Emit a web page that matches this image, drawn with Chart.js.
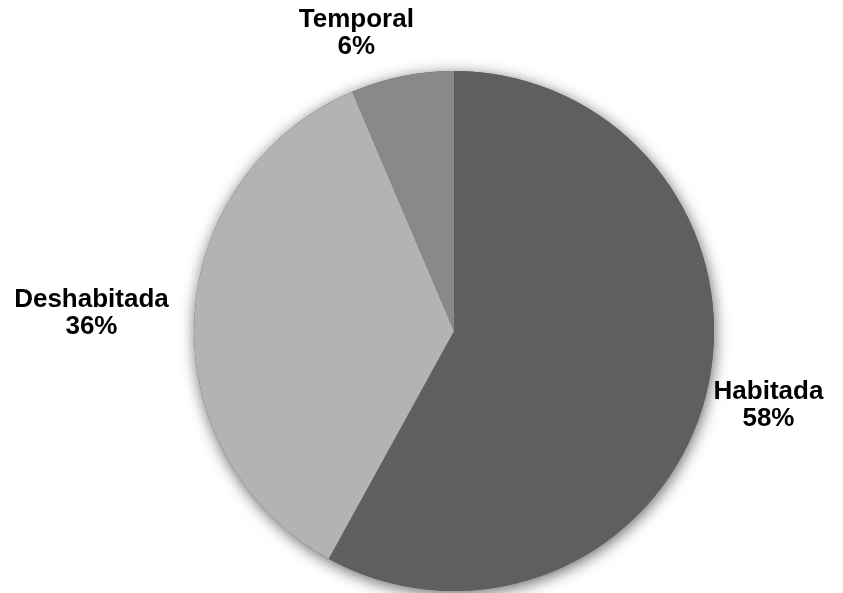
<!DOCTYPE html>
<html>
<head>
<meta charset="utf-8">
<script src="https://cdn.jsdelivr.net/npm/chart.js@4/dist/chart.umd.min.js"></script>
<style>
  html, body { margin: 0; padding: 0; background: #ffffff; }
  #wrap { width: 843px; height: 593px; position: relative; }
</style>
</head>
<body>
<div id="wrap"><canvas id="chart" aria-label="Vivienda pie chart"></canvas></div>
<script>
// data
const categories = ["Habitada", "Deshabitada", "Temporal"];
const shares = [58.0, 35.6, 6.4];
const percentLabels = ["58%", "36%", "6%"];
const sliceColors = ["#5f5f5f", "#b3b3b3", "#898989"];

// label placement: extra distance past the rim, and angle nudge (degrees)
const labelGap = [63, 103, 54];
const labelNudge = [-1.2, 0, -6.6];

const shadowPlugin = {
  id: "pieShadow",
  beforeDatasetsDraw(chart) {
    const arc = chart.getDatasetMeta(0).data[0];
    if (!arc) return;
    const { x, y, outerRadius } = arc.getProps(["x", "y", "outerRadius"], true);
    const ctx = chart.ctx;
    ctx.save();
    ctx.shadowColor = "rgba(0,0,0,0.6)";
    ctx.shadowBlur = 15;
    ctx.shadowOffsetX = 1;
    ctx.shadowOffsetY = 3;
    ctx.beginPath();
    ctx.arc(x, y, outerRadius, 0, Math.PI * 2);
    ctx.fillStyle = "#5f5f5f";
    ctx.fill();
    ctx.restore();
  },
};

const outsideLabels = {
  id: "outsideLabels",
  afterDatasetsDraw(chart) {
    const ctx = chart.ctx;
    const meta = chart.getDatasetMeta(0);
    ctx.save();
    ctx.font = "bold 26px 'Liberation Sans', Arial, sans-serif";
    ctx.fillStyle = "#000000";
    ctx.textAlign = "center";
    ctx.textBaseline = "middle";
    meta.data.forEach((arc, i) => {
      const p = arc.getProps(["x", "y", "startAngle", "endAngle", "outerRadius"], true);
      const mid = (p.startAngle + p.endAngle) / 2 + (labelNudge[i] * Math.PI) / 180;
      const dist = p.outerRadius + labelGap[i];
      const cx = p.x + Math.cos(mid) * dist;
      const cy = p.y + Math.sin(mid) * dist;
      ctx.fillText(categories[i], cx, cy - 13);
      ctx.fillText(percentLabels[i], cx, cy + 14);
    });
    ctx.restore();
  },
};

new Chart(document.getElementById("chart"), {
  type: "pie",
  data: {
    labels: categories,
    datasets: [
      {
        data: shares,
        backgroundColor: sliceColors,
        borderWidth: 0,
      },
    ],
  },
  options: {
    responsive: true,
    maintainAspectRatio: false,
    animation: false,
    layout: {
      padding: { top: 71, bottom: 2, left: 194, right: 129 },
    },
    plugins: {
      legend: { display: false },
      tooltip: { enabled: false },
    },
  },
  plugins: [shadowPlugin, outsideLabels],
});
</script>
</body>
</html>
